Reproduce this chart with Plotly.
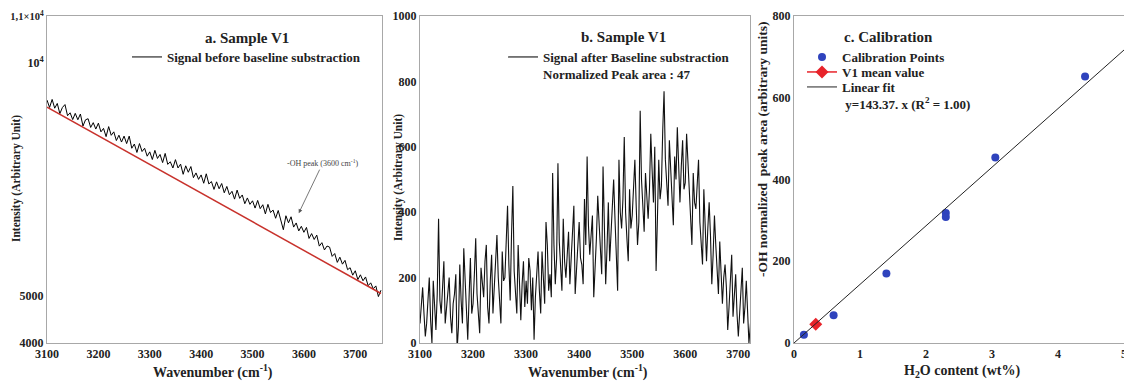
import plotly.graph_objects as go

# page shows the figure with an 8px body margin
OFF = 8
W, H = 1132 - OFF, 383 - OFF

# ---------------- data ----------------
wavenumber_a = list(range(3100, 3755, 5))

signal_before = [
    9200, 9042, 9214, 9026, 9128, 8910, 9042, 9104, 8866, 8928,
    8783, 8916, 8779, 8902, 8645, 8778, 8801, 8614, 8717, 8580,
    8706, 8520, 8594, 8418, 8632, 8446, 8520, 8334, 8448, 8302,
    8429, 8269, 8429, 8169, 8259, 8079, 8269, 8099, 8169, 7999,
    8092, 7928, 8124, 7950, 8036, 7862, 8058, 7824, 7880, 7746,
    7925, 7747, 7829, 7611, 7793, 7655, 7777, 7539, 7641, 7503,
    7598, 7420, 7622, 7404, 7456, 7288, 7450, 7302, 7414, 7216,
    7351, 7174, 7247, 7080, 7273, 7096, 7169, 6982, 7105, 6968,
    7044, 6888, 7052, 6876, 6960, 6764, 6968, 6792, 6846, 6670,
    6837, 6646, 6425, 6724, 6573, 6702, 6481, 6570, 6399, 6498,
    6370, 6474, 6238, 6342, 6216, 6310, 6074, 6148, 5992, 6076,
    6053, 5854, 5915, 5726, 5837, 5688, 5769, 5570, 5611, 5452,
    5546, 5358, 5460, 5332, 5414, 5226, 5288, 5160, 5222, 4994, 5130,
]

baseline_x = [3100, 3750]
baseline_y = [9050, 5060]

wavenumber_b = [3100 + 2.5 * i for i in range(261)]
signal_after = [
    60, 110, 170, 90, 20, 60, 140, 200, 70, 0, 190, 120, 40, 150, 380, 130, 90, 170, 250, 60,
    100, 160, 200, 80, 30, 120, 150, 210, -20, 50, 240, 130, 60, 290, 180, 70, 10, 140, 260, 90,
    120, 210, 320, 150, 90, 30, 230, 170, 140, 250, 300, 110, 60, 190, 270, 90, 170, 220, 330, 200,
    110, 60, 280, 190, 200, 350, 420, 240, 130, 330, 480, 220, 160, 90, 300, 150, 70, 180, 250, 110,
    190, 120, 260, 220, 100, 200, 10, 140, 230, 280, 160, 90, 280, 200, 120, 370, 300, 160, 210, 140,
    520, 300, 180, 260, 550, 310, 240, 160, 380, 250, 200, 280, 340, 180, 260, 330, 420, 150, 230, 330,
    370, 260, 240, 180, 440, 300, 570, 360, 270, 330, 390, 140, 220, 320, 450, 370, 300, 210, 540, 330,
    180, 290, 430, 250, 330, 410, 500, 380, 280, 160, 560, 400, 350, 440, 630, 400, 320, 250, 470, 350,
    390, 480, 560, 420, 300, 370, 710, 500, 420, 340, 520, 450, 380, 470, 640, 530, 430, 600, 220, 380,
    560, 440, 480, 650, 770, 560, 500, 420, 620, 540, 470, 360, 570, 500, 660, 520, 430, 540, 620, 470,
    490, 640, 560, 470, 360, 300, 520, 430, 410, 490, 560, 370, 300, 240, 470, 380, 250, 350, 430, 330,
    180, 270, 390, 300, 220, 150, 310, 210, 120, 200, 240, 170, 40, 110, 180, 270, 80, 140, 210, 90,
    20, 90, 150, 230, 60, 110, 190, 80, 0, 50, 130, 170, 50, 100, 200, 140, 30, 90, 120, 180, 60,
]

calib_x = [0.15, 0.6, 1.4, 2.3, 2.3, 3.05, 4.41]
calib_y = [20, 68, 170, 318, 308, 454, 652]
v1_x = [0.33]
v1_y = [46]
fit_slope = 143.37
fit_x = [0, 5]
fit_y = [fit_slope * v for v in fit_x]

a_ticks = [4000, 5000, 10000, 11000]
a_ticktext = ["4000", "5000", "10<sup>4</sup>",
              "<span style='font-size:10.5px'>1,1×10<sup>4</sup></span>"]
wn_ticks = [3100, 3200, 3300, 3400, 3500, 3600, 3700]
b_ticks = [0, 200, 400, 600, 800, 1000]
c_xticks = [0, 1, 2, 3, 4, 5]
c_yticks = [0, 200, 400, 600, 800]

# ---------------- figure ----------------
SERIF = "Liberation Serif, Times New Roman, serif"
def px(x):          # window pixel -> paper fraction
    return (x - OFF) / W
def py(y):
    return 1 - (y - OFF) / H

fig = go.Figure()

fig.add_trace(go.Scatter(x=wavenumber_a, y=signal_before, mode="lines",
                         line=dict(color="black", width=1),
                         name="Signal before baseline substraction",
                         xaxis="x", yaxis="y", legend="legend"))
fig.add_trace(go.Scatter(x=baseline_x, y=baseline_y, mode="lines",
                         line=dict(color="#c8322c", width=1.5),
                         showlegend=False, xaxis="x", yaxis="y"))
fig.add_trace(go.Scatter(x=wavenumber_b, y=signal_after, mode="lines",
                         line=dict(color="#111", width=1.1),
                         name="Signal after Baseline substraction<br>Normalized Peak area : 47",
                         xaxis="x2", yaxis="y2", legend="legend2"))
fig.add_trace(go.Scatter(x=calib_x, y=calib_y, mode="markers",
                         marker=dict(color="#2f43bd", size=8),
                         name="Calibration Points",
                         xaxis="x3", yaxis="y3", legend="legend3"))
fig.add_trace(go.Scatter(x=v1_x, y=v1_y, mode="lines+markers",
                         marker=dict(color="#e8232a", size=10, symbol="diamond"),
                         line=dict(color="#e8232a", width=1.5),
                         name="V1 mean value",
                         xaxis="x3", yaxis="y3", legend="legend4"))
fig.add_trace(go.Scatter(x=fit_x, y=fit_y, mode="lines",
                         line=dict(color="#222", width=1),
                         name="Linear fit<br> y=143.37. x (R<sup>2</sup> = 1.00)",
                         xaxis="x3", yaxis="y3", legend="legend5"))

tickfont = dict(family=SERIF, size=12, color="#222", weight="bold")
frame = dict(showline=True, mirror=True, linecolor="#a8a8a8", linewidth=1,
             showgrid=False, zeroline=False, ticks="", tickfont=tickfont,
             automargin=False, ticklabeloverflow="allow")

ybot, ytop = py(343), py(16)
fig.update_layout(
    width=W, height=H,
    margin=dict(l=0, r=0, t=0, b=0, pad=0),
    paper_bgcolor="white", plot_bgcolor="white",
    font=dict(family=SERIF, color="#222"),
    xaxis=dict(domain=[px(47), px(382)], range=[3100, 3752], tickvals=wn_ticks,
               anchor="y", **frame),
    yaxis=dict(domain=[ybot, ytop], range=[4000, 11000], tickvals=a_ticks,
               ticktext=a_ticktext, anchor="x", **frame),
    xaxis2=dict(domain=[px(420), px(750)], range=[3100, 3722], tickvals=wn_ticks,
                anchor="y2", **frame),
    yaxis2=dict(domain=[ybot, ytop], range=[0, 1000], tickvals=b_ticks,
                anchor="x2", **frame),
    xaxis3=dict(domain=[px(794), px(1124)], range=[0, 5], tickvals=c_xticks,
                anchor="y3", **frame),
    yaxis3=dict(domain=[ybot, ytop], range=[0, 800], tickvals=c_yticks,
                anchor="x3", **frame),
    showlegend=True,
)

legend_font = dict(family=SERIF, size=13, color="#222", weight="bold")
def leg(text_x, item_y):
    return dict(x=px(text_x - 40), y=py(item_y - 16), xanchor="left", yanchor="top",
                bgcolor="rgba(0,0,0,0)", font=legend_font, valign="top", itemwidth=30)

fig.update_layout(
    legend=leg(167, 58),
    legend2=leg(543, 58),
    legend3=leg(842, 58),
    legend4=leg(842, 73),
    legend5=leg(842, 88),
)

def ann(text, x, y, size=14, angle=0, bold=True, **kw):
    fig.add_annotation(text=f"<b>{text}</b>" if bold else text, x=px(x), y=py(y),
                       xref="paper", yref="paper", showarrow=False,
                       xanchor="center", yanchor="middle", textangle=angle,
                       font=dict(family=SERIF, size=size, color="#222"), **kw)

ann("a. Sample V1", 247, 38, size=15)
ann("b. Sample V1", 623, 37, size=15)
ann("c. Calibration", 889, 37, size=15)
ann("Wavenumber (cm<sup>-1</sup>)", 213, 371, size=14)
ann("Wavenumber (cm<sup>-1</sup>)", 588, 371, size=14)
ann("H<sub>2</sub>O content (wt%)", 962, 371, size=14)
ann("Intensity (Arbitrary Unit)", 17, 179, size=11.5, angle=-90)
ann("Intensity (Arbitrary Unit)", 398, 178, size=11.5, angle=-90)
ann("-OH normalized  peak area (arbitrary units)", 762, 150, size=13.5, angle=-90)

fig.add_annotation(text="-OH peak (3600 cm<sup>-1</sup>)", x=3590, y=6780,
                   xref="x", yref="y", ax=24, ay=-50, showarrow=True,
                   arrowhead=2, arrowsize=1, arrowwidth=0.8, arrowcolor="#555",
                   font=dict(family=SERIF, size=8, color="#444"))

fig.write_html("out.html")
